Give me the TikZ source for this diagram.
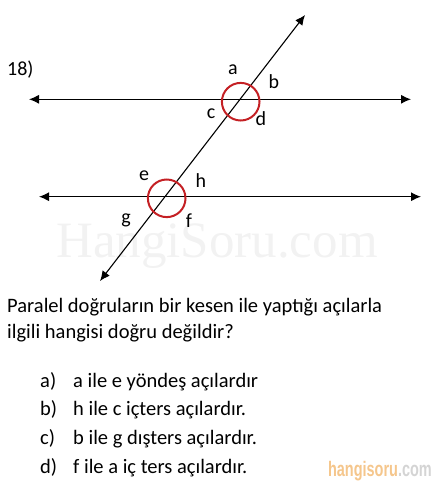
\documentclass[tikz,border=0pt]{standalone}
\usepackage{fontspec}
\setmainfont{Carlito}
\newfontfamily\markfont{Liberation Serif}
\newfontfamily\logofont{Liberation Sans}
\usepackage{tikz}
\usetikzlibrary{arrows.meta}
\definecolor{ringred}{RGB}{196,32,36}
\definecolor{marksgray}{RGB}{242,242,242}
\definecolor{logoorange}{RGB}{245,198,140}
\definecolor{logogray}{RGB}{212,212,212}

\begin{document}
\begin{tikzpicture}[x=1pt,y=-1pt]

\tikzstyle{line}=[line width=1.1pt,{Latex[length=10pt,width=9pt]}-{Latex[length=10pt,width=9pt]}]

% ANGLE RINGS
\tikzstyle{ring}=[circle,draw=ringred,line width=2pt,minimum size=37.6pt,inner sep=0pt,outer sep=0pt]
\tikzstyle{angle}=[font=\fontsize{20}{20}\selectfont,inner sep=0pt]
\tikzstyle{txt}=[anchor=base west,inner sep=0pt,font=\fontsize{20.5}{24}\selectfont]

\useasboundingbox (0,0) rectangle (434,483);

% WATERMARK
\node (mark) [anchor=base,inner sep=0pt,font=\markfont\fontsize{51}{51}\selectfont,text=marksgray] at (217,257) {HangiSoru.com};

% PARALLEL LINES
\coordinate (L1) at (29,99.3);
\coordinate (R1) at (411,99.3);
\coordinate (L2) at (39,196.7);
\coordinate (R2) at (421,196.7);
\draw [line] (L1) -- (R1);
\draw [line] (L2) -- (R2);

% TRANSVERSAL
\coordinate (T1) at (100,281);
\coordinate (T2) at (305,15);
\draw [line] (T1) -- (T2);

% RINGS
\node (up) [ring] at (240.7,101.7) {};
\node (down) [ring] at (166.7,198.3) {};

% LABELS
\node (num) [txt,font=\fontsize{20}{24}\selectfont] at (7,75) {18)};
\node (a) [angle] at (233,70) {a};
\node (b) [angle] at (274,82) {b};
\node (c) [angle] at (211,114) {c};
\node (d) [angle] at (261,119) {d};
\node (e) [angle] at (144,176) {e};
\node (h) [angle] at (201,181) {h};
\node (g) [angle] at (126,220) {g};
\node (f) [angle] at (189,221) {f};

% QUESTION
\node (q1) [txt] at (7,312) {Paralel doğruların bir kesen ile yaptığı açılarla};
\node (q2) [txt] at (7,338) {ilgili hangisi doğru değildir?};

% OPTIONS
\node (oa) [txt] at (40,387) {a)};
\node (ta) [txt] at (73,387) {a ile e yöndeş açılardır};
\node (ob) [txt] at (40,415) {b)};
\node (tb) [txt] at (73,415) {h ile c içters açılardır.};
\node (oc) [txt] at (40,444) {c)};
\node (tc) [txt] at (73,444) {b ile g dışters açılardır.};
\node (od) [txt] at (40,473) {d)};
\node (td) [txt] at (73,473) {f ile a iç ters açılardır.};

% LOGO
\node (logo) [anchor=base east,inner sep=0pt,xscale=0.69,font=\logofont\bfseries\fontsize{21}{21}\selectfont] at (432,476) {\textcolor{logoorange}{hangisoru}\textcolor{logogray}{.com}};

\end{tikzpicture}
\end{document}
